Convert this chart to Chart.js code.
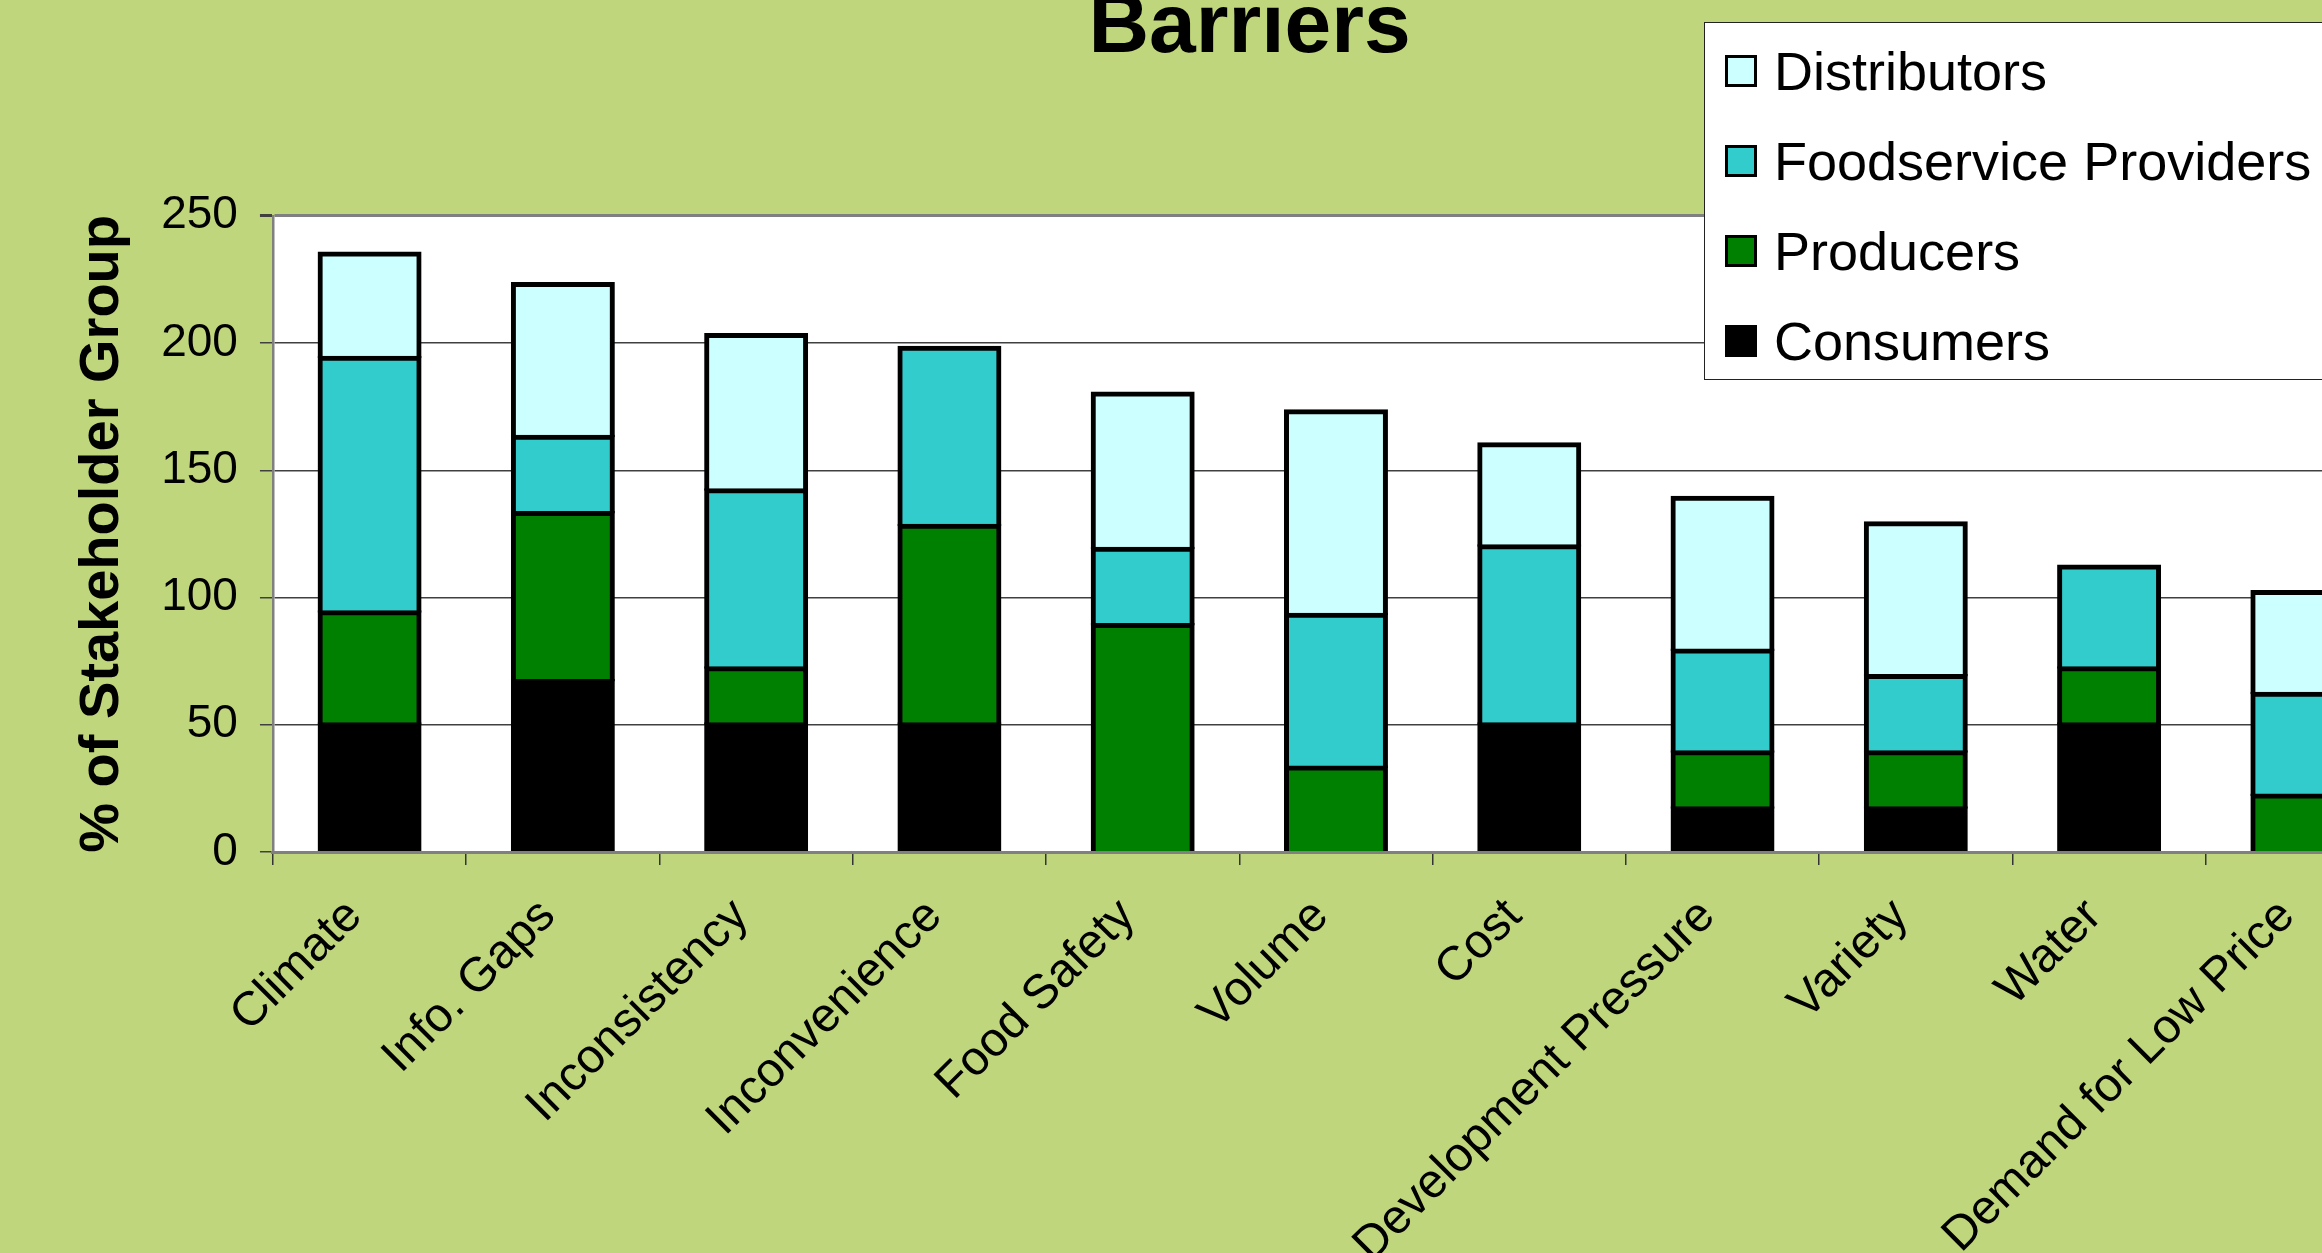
<!DOCTYPE html>
<html><head><meta charset="utf-8">
<script src="https://cdn.jsdelivr.net/npm/chart.js@4.4.1/dist/chart.umd.min.js"></script>
<style>
html,body{margin:0;padding:0;width:2322px;height:1253px;overflow:hidden;background:#C0D67C;}
#wrap{position:absolute;left:0;top:-40px;width:2500px;height:1337px;}
#legend{position:absolute;left:1704px;top:22px;width:700px;height:356px;background:#fff;border:1.5px solid #222;font-family:"Liberation Sans",Arial,sans-serif;font-size:54px;color:#000;}
.item{position:absolute;left:20px;height:60px;display:flex;align-items:center;white-space:nowrap;}
.sw{width:26px;height:26px;border:3.5px solid #000;margin-right:17px;flex:none;}
</style></head>
<body>
<div id="wrap"><canvas id="c"></canvas></div>
<div id="legend"></div>
<script>
const categories = ["Climate","Info. Gaps","Inconsistency","Inconvenience","Food Safety","Volume","Cost","Development Pressure","Variety","Water","Demand for Low Price"];
const seriesNames = ["Consumers","Producers","Foodservice Providers","Distributors"];
const consumers   = [50, 67, 50, 50, 0, 0, 50, 17, 17, 50, 0];
const producers   = [44, 66, 22, 78, 89, 33, 0, 22, 22, 22, 22];
const foodservice = [100, 30, 70, 70, 30, 60, 70, 40, 30, 40, 40];
const distributors= [41, 60, 61, 0, 61, 80, 40, 60, 60, 0, 40];
const yTicks = [0, 50, 100, 150, 200, 250];

const seriesColors = ["#000000","#008000","#33CCCC","#CCFFFF"];
const FONT = '"Liberation Sans", Arial, sans-serif';
const values = [consumers, producers, foodservice, distributors];

const whiteArea = {id:'whiteArea', beforeDraw(chart){const {ctx, chartArea:a}=chart; ctx.save(); ctx.fillStyle='#ffffff'; ctx.fillRect(a.left,a.top,a.right-a.left,a.bottom-a.top); ctx.restore();}};

new Chart(document.getElementById('c'), {
  type:'bar',
  data:{labels:categories, datasets: seriesNames.map((n,i)=>({label:n, data:values[i], backgroundColor:seriesColors[i], borderColor:'#000000', borderWidth:5, inflateAmount:2.5}))},
  options:{
    responsive:true, maintainAspectRatio:false, animation:false, devicePixelRatio:1,
    layout:{padding:{left:100,right:101,top:0,bottom:0}},
    plugins:{
      legend:{display:false}, tooltip:{enabled:false},
      title:{display:true,text:'Barriers',color:'#000',font:{family:FONT,size:84,weight:'bold',lineHeight:1.2},padding:{top:18,bottom:137}}
    },
    datasets:{bar:{categoryPercentage:1, barPercentage:0.512}},
    scales:{
      x:{stacked:true,
         grid:{drawOnChartArea:false, drawTicks:true, tickLength:13, color:'#333', lineWidth:1.5, offset:true},
         border:{display:true,color:'#808080',width:3,z:1},
         ticks:{color:'#000', font:{family:FONT,size:48}, minRotation:45, maxRotation:45, autoSkip:false, padding:23, labelOffset:-15}},
      y:{stacked:true, min:0, max:250, afterBuildTicks:(s)=>{s.ticks = yTicks.map(v=>({value:v}));},
         ticks:{color:'#000', font:{family:FONT,size:46}, padding:22},
         grid:{color:(c)=>c.tick&&c.tick.value===250?'#808080':'#404040', lineWidth:(c)=>c.tick&&c.tick.value===250?3:1.5, tickLength:13, tickColor:'#404040'},
         border:{color:'#808080',width:2.5},
         title:{display:true,text:'% of Stakeholder Group',color:'#000',font:{family:FONT,size:56,weight:'bold',lineHeight:1.2},padding:{top:-31,bottom:3}}}
    }
  },
  plugins:[whiteArea]
});

const lg = document.getElementById('legend');
const rowTops = [18,108,198,288];
for (let k=0;k<4;k++){
  const i = 3-k;
  const it = document.createElement('div'); it.className='item'; it.style.top=rowTops[k]+'px';
  const sw = document.createElement('div'); sw.className='sw'; sw.style.background=seriesColors[i];
  const tx = document.createElement('span'); tx.textContent=seriesNames[i];
  it.appendChild(sw); it.appendChild(tx); lg.appendChild(it);
}
</script>
</body></html>
